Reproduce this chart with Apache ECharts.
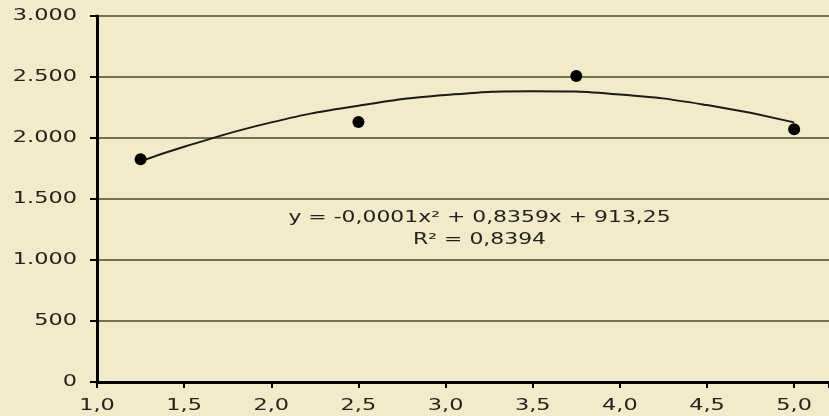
<!DOCTYPE html>
<html>
<head>
<meta charset="utf-8">
<script src="https://cdn.jsdelivr.net/npm/echarts@6/dist/echarts.min.js"></script>
<style>
html,body{margin:0;padding:0;background:#f2eac9;}
#chart{width:829px;height:416px;}
</style>
</head>
<body>
<div id="chart"></div>
<script>
// Observed points
const pointX = [1.25, 2.5, 3.75, 5.0];
const pointY = [1825, 2132, 2508, 2072];
// Trendline
const curveX = [1.25, 1.5, 2.0, 2.5, 3.0, 3.5, 4.0, 4.5, 5.0];
const curveY = [1808, 1928, 2128, 2265, 2352, 2384, 2356, 2270, 2128];
// Axis ticks
const xTicks = [1.0, 1.5, 2.0, 2.5, 3.0, 3.5, 4.0, 4.5, 5.0];
const yTicks = [0, 500, 1000, 1500, 2000, 2500, 3000];
const xTickLabels = ['1,0', '1,5', '2,0', '2,5', '3,0', '3,5', '4,0', '4,5', '5,0'];
const yTickLabels = ['0', '500', '1.000', '1.500', '2.000', '2.500', '3.000'];
const equationText = 'y = -0,0001x\u00B2 + 0,8359x + 913,25';
const r2Text = 'R\u00B2 = 0,8394';
const equationAnchor = [3.195, 1254];

const chart = echarts.init(document.getElementById('chart'), null, {renderer: 'canvas'});
const font = 'DejaVu Sans';
const stretch = 1.4;
const option = {
  backgroundColor: '#f2eac9',
  animation: false,
  grid: {left: 97, right: 0, top: 16, bottom: 34},
  xAxis: {
    type: 'value',
    min: xTicks[0],
    max: 5.2,
    interval: 0.5,
    axisLine: {show: true, onZero: false, lineStyle: {color: '#000', width: 3}},
    axisTick: {show: true, length: 6, lineStyle: {color: '#000', width: 2}},
    splitLine: {show: false},
    axisLabel: {show: false}
  },
  yAxis: {
    type: 'value',
    min: yTicks[0],
    max: yTicks[yTicks.length - 1],
    interval: 500,
    axisLine: {show: true, lineStyle: {color: '#000', width: 3}},
    axisTick: {show: true, length: 7, lineStyle: {color: '#000', width: 2}},
    splitLine: {show: true, lineStyle: {color: '#4a4836', width: 1.6}},
    axisLabel: {show: false}
  },
  series: [
    {
      type: 'line',
      data: curveX.map((x, i) => [x, curveY[i]]),
      smooth: true,
      symbol: 'none',
      lineStyle: {color: '#1a1a1a', width: 2},
      z: 3
    },
    {
      type: 'scatter',
      data: pointX.map((x, i) => [x, pointY[i]]),
      symbol: 'circle',
      symbolSize: 12,
      itemStyle: {color: '#000', opacity: 1},
      z: 4
    }
  ]
};
chart.setOption(option);

// Texts in the reference are horizontally stretched; draw them as real text with scaleX
const graphics = [];
const x0 = chart.convertToPixel({xAxisIndex: 0}, xTicks[0]);
const yBase = chart.convertToPixel({yAxisIndex: 0}, yTicks[0]);
yTicks.forEach((v, i) => {
  graphics.push({
    type: 'text', x: x0 - 20, y: chart.convertToPixel({yAxisIndex: 0}, v), scaleX: stretch,
    style: {text: yTickLabels[i], font: '16px "' + font + '"', fill: '#222', textAlign: 'right', textVerticalAlign: 'middle'}
  });
});
xTicks.forEach((v, i) => {
  graphics.push({
    type: 'text', x: chart.convertToPixel({xAxisIndex: 0}, v), y: yBase + 24, scaleX: stretch,
    style: {text: xTickLabels[i], font: '16px "' + font + '"', fill: '#222', textAlign: 'center', textVerticalAlign: 'middle'}
  });
});
const eq = chart.convertToPixel({gridIndex: 0}, equationAnchor);
graphics.push({
  type: 'text', x: eq[0], y: eq[1] - 11, scaleX: 1.46,
  style: {text: equationText, font: '15px "' + font + '"', fill: '#222', textAlign: 'center', textVerticalAlign: 'middle'}
});
graphics.push({
  type: 'text', x: eq[0], y: eq[1] + 11, scaleX: 1.46,
  style: {text: r2Text, font: '15px "' + font + '"', fill: '#222', textAlign: 'center', textVerticalAlign: 'middle'}
});
chart.setOption({graphic: graphics});
</script>
</body>
</html>
